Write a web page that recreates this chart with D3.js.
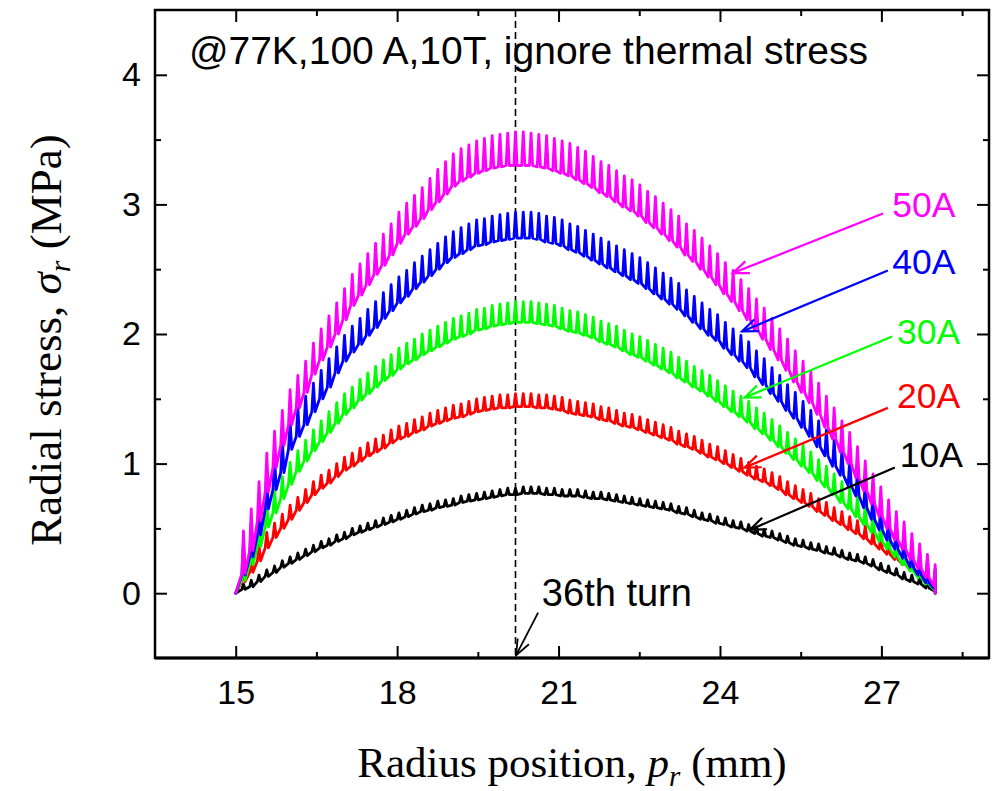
<!DOCTYPE html>
<html>
<head>
<meta charset="utf-8">
<script src="https://cdn.jsdelivr.net/npm/d3@7"></script>
<style>
  html, body { margin: 0; padding: 0; background: #fff; }
  svg { display: block; }
</style>
</head>
<body>
<div id="chart"></div>
<script>
// Radial stress per turn of a 90-turn pancake winding, 15 mm to 28 mm
const innerRadius = 15;
const outerRadius = 28;
const turnCount = 90;
const edgeStress = 0;

const seriesNames = ["10A", "20A", "30A", "40A", "50A"];

// stress at the tip of each turn's spike (MPa), turn 1..90
const peak10A = [
  0.07,0.10,0.14,0.18,0.21,0.25,0.28,0.31,0.34,0.37,
  0.40,0.42,0.45,0.47,0.50,0.52,0.54,0.56,0.58,0.60,
  0.62,0.64,0.66,0.68,0.69,0.71,0.72,0.73,0.75,0.76,
  0.77,0.78,0.79,0.80,0.81,0.81,0.82,0.82,0.82,0.81,
  0.81,0.80,0.80,0.80,0.79,0.78,0.78,0.77,0.76,0.75,
  0.74,0.73,0.72,0.71,0.70,0.69,0.67,0.66,0.64,0.62,
  0.61,0.59,0.58,0.56,0.55,0.53,0.51,0.49,0.48,0.46,
  0.44,0.42,0.41,0.39,0.38,0.36,0.35,0.33,0.31,0.30,
  0.28,0.26,0.23,0.21,0.19,0.16,0.14,0.12,0.09,0.07];
const peak20A = [
  0.21,0.28,0.37,0.47,0.54,0.61,0.68,0.74,0.80,0.86,
  0.91,0.95,1.00,1.05,1.08,1.12,1.16,1.19,1.22,1.26,
  1.29,1.31,1.34,1.36,1.39,1.41,1.43,1.45,1.46,1.48,
  1.50,1.51,1.52,1.53,1.53,1.54,1.54,1.54,1.53,1.53,
  1.52,1.51,1.49,1.48,1.47,1.46,1.44,1.43,1.41,1.39,
  1.38,1.36,1.34,1.32,1.30,1.28,1.25,1.23,1.21,1.18,
  1.15,1.13,1.10,1.07,1.04,1.01,0.98,0.96,0.93,0.90,
  0.86,0.83,0.80,0.77,0.73,0.70,0.66,0.63,0.59,0.56,
  0.52,0.48,0.44,0.40,0.36,0.32,0.28,0.23,0.18,0.13];
const peak30A = [
  0.31,0.42,0.56,0.70,0.80,0.90,1.01,1.10,1.18,1.26,
  1.33,1.40,1.47,1.54,1.59,1.65,1.70,1.75,1.80,1.84,
  1.89,1.93,1.96,2.00,2.03,2.06,2.09,2.12,2.14,2.16,
  2.19,2.20,2.22,2.23,2.24,2.25,2.25,2.25,2.24,2.23,
  2.22,2.20,2.18,2.17,2.15,2.13,2.10,2.08,2.06,2.03,
  2.00,1.98,1.95,1.92,1.89,1.86,1.82,1.79,1.75,1.72,
  1.68,1.64,1.60,1.56,1.52,1.48,1.43,1.39,1.34,1.29,
  1.24,1.19,1.14,1.09,1.03,0.98,0.92,0.86,0.81,0.75,
  0.69,0.63,0.56,0.50,0.44,0.38,0.32,0.27,0.21,0.16];
const peak40A = [
  0.40,0.54,0.71,0.91,1.06,1.19,1.33,1.43,1.52,1.62,
  1.72,1.81,1.90,1.99,2.06,2.12,2.19,2.25,2.32,2.38,
  2.44,2.49,2.55,2.60,2.65,2.70,2.75,2.79,2.82,2.85,
  2.88,2.89,2.91,2.92,2.93,2.94,2.94,2.94,2.93,2.91,
  2.90,2.88,2.85,2.83,2.80,2.77,2.74,2.71,2.68,2.65,
  2.62,2.59,2.55,2.51,2.47,2.43,2.39,2.34,2.29,2.24,
  2.19,2.15,2.09,2.04,1.99,1.94,1.87,1.81,1.74,1.68,
  1.61,1.55,1.48,1.41,1.33,1.26,1.18,1.11,1.03,0.95,
  0.86,0.77,0.69,0.61,0.54,0.46,0.39,0.32,0.26,0.19];
const peak50A = [
  0.48,0.65,0.86,1.08,1.25,1.41,1.57,1.68,1.79,1.93,
  2.04,2.14,2.24,2.35,2.46,2.54,2.62,2.70,2.77,2.85,
  2.94,3.01,3.07,3.13,3.20,3.27,3.33,3.39,3.43,3.46,
  3.49,3.51,3.53,3.54,3.55,3.56,3.56,3.55,3.54,3.53,
  3.51,3.49,3.47,3.44,3.41,3.37,3.33,3.30,3.26,3.22,
  3.19,3.15,3.10,3.06,3.01,2.96,2.91,2.85,2.80,2.74,
  2.68,2.62,2.55,2.49,2.42,2.35,2.27,2.20,2.12,2.04,
  1.96,1.87,1.79,1.71,1.62,1.52,1.43,1.33,1.24,1.13,
  1.02,0.92,0.82,0.72,0.63,0.55,0.46,0.38,0.30,0.22];

// stress at the base of each turn, just before its spike (MPa)
const base10A = [
  0.03,0.05,0.09,0.13,0.16,0.20,0.23,0.26,0.29,0.32,
  0.35,0.37,0.40,0.42,0.45,0.47,0.49,0.51,0.53,0.55,
  0.57,0.59,0.61,0.63,0.64,0.66,0.67,0.68,0.70,0.71,
  0.72,0.73,0.74,0.75,0.76,0.76,0.77,0.77,0.77,0.76,
  0.76,0.75,0.75,0.75,0.74,0.73,0.73,0.72,0.71,0.70,
  0.69,0.68,0.67,0.66,0.65,0.64,0.62,0.61,0.59,0.57,
  0.56,0.54,0.53,0.51,0.50,0.48,0.46,0.44,0.43,0.41,
  0.39,0.37,0.36,0.34,0.33,0.31,0.30,0.28,0.26,0.25,
  0.23,0.21,0.18,0.16,0.14,0.11,0.09,0.07,0.04,0.02];
const base20A = [
  0.09,0.16,0.25,0.35,0.43,0.50,0.57,0.64,0.70,0.76,
  0.81,0.85,0.90,0.95,0.98,1.02,1.06,1.09,1.12,1.16,
  1.19,1.21,1.24,1.26,1.29,1.31,1.33,1.35,1.36,1.38,
  1.40,1.41,1.42,1.43,1.43,1.44,1.44,1.44,1.43,1.43,
  1.42,1.41,1.39,1.38,1.37,1.36,1.34,1.33,1.31,1.29,
  1.28,1.26,1.24,1.22,1.20,1.18,1.15,1.13,1.11,1.08,
  1.05,1.03,1.00,0.97,0.94,0.91,0.88,0.86,0.83,0.80,
  0.76,0.73,0.70,0.67,0.63,0.60,0.56,0.53,0.49,0.46,
  0.42,0.38,0.34,0.30,0.26,0.22,0.18,0.14,0.09,0.05];
const base30A = [
  0.10,0.22,0.36,0.51,0.62,0.73,0.84,0.94,1.02,1.10,
  1.17,1.24,1.31,1.38,1.43,1.49,1.54,1.59,1.64,1.68,
  1.73,1.77,1.80,1.84,1.87,1.90,1.93,1.96,1.98,2.00,
  2.03,2.04,2.06,2.07,2.08,2.09,2.09,2.09,2.08,2.07,
  2.06,2.04,2.02,2.01,1.99,1.97,1.94,1.92,1.90,1.87,
  1.84,1.82,1.79,1.76,1.73,1.70,1.66,1.63,1.59,1.56,
  1.52,1.48,1.44,1.40,1.36,1.32,1.27,1.23,1.18,1.13,
  1.08,1.03,0.98,0.93,0.87,0.82,0.76,0.70,0.65,0.59,
  0.53,0.47,0.40,0.34,0.28,0.22,0.17,0.12,0.07,0.03];
const base40A = [
  0.14,0.28,0.45,0.65,0.80,0.93,1.11,1.21,1.30,1.40,
  1.50,1.59,1.70,1.79,1.86,1.92,1.99,2.05,2.12,2.18,
  2.24,2.29,2.35,2.40,2.45,2.50,2.55,2.59,2.62,2.65,
  2.68,2.69,2.71,2.72,2.73,2.74,2.74,2.74,2.73,2.71,
  2.70,2.68,2.65,2.63,2.60,2.57,2.54,2.51,2.48,2.45,
  2.42,2.39,2.35,2.31,2.27,2.23,2.19,2.14,2.09,2.04,
  1.99,1.95,1.89,1.84,1.79,1.74,1.67,1.61,1.54,1.48,
  1.41,1.35,1.28,1.21,1.13,1.06,0.98,0.91,0.83,0.75,
  0.66,0.57,0.49,0.41,0.34,0.27,0.20,0.14,0.08,0.04];
const base50A = [
  0.15,0.33,0.56,0.78,0.97,1.14,1.30,1.43,1.55,1.69,
  1.80,1.90,2.00,2.11,2.22,2.30,2.38,2.46,2.53,2.61,
  2.70,2.77,2.83,2.89,2.96,3.02,3.08,3.14,3.18,3.21,
  3.24,3.26,3.28,3.29,3.30,3.30,3.30,3.30,3.29,3.28,
  3.26,3.24,3.22,3.19,3.16,3.13,3.09,3.06,3.02,2.98,
  2.95,2.91,2.86,2.82,2.77,2.72,2.67,2.61,2.56,2.50,
  2.44,2.38,2.31,2.25,2.18,2.11,2.03,1.96,1.88,1.80,
  1.72,1.63,1.55,1.47,1.38,1.28,1.19,1.09,1.00,0.89,
  0.79,0.69,0.59,0.50,0.41,0.34,0.26,0.19,0.12,0.06];

const peaks = [peak10A, peak20A, peak30A, peak40A, peak50A];
const bases = [base10A, base20A, base30A, base40A, base50A];

// labels and arrows in data units: text pos, arrow start, arrow tip
const labelPos   = [[27.34, 0.97], [27.29, 1.43], [27.29, 1.92], [27.2, 2.46], [27.2, 2.90]];
const arrowStart = [[27.25, 0.97], [27.12, 1.43], [27.2, 1.98], [27.12, 2.49], [27.03, 2.93]];
const arrowTip   = [[24.56, 0.49], [24.46, 0.97], [24.46, 1.51], [24.41, 2.02], [24.24, 2.47]];

const markTurn = 20.2;
const markLabel = "36th turn";
const markLabelPos = [20.69, -0.1];
const markArrow = [[20.62, -0.15], [20.21, -0.48]];
const noteText = "@77K,100 A,10T, ignore thermal stress";
const notePos = [14.13, 4.08];

const xTicks = [15, 18, 21, 24, 27];
const xMinor = [16.5, 19.5, 22.5, 25.5, 28.5];
const yTicks = [0, 1, 2, 3, 4];
const yMinor = [0.5, 1.5, 2.5, 3.5];

// ---- styles ----
const colors = {"10A": "#000000", "20A": "#ff0000", "30A": "#00ff00", "40A": "#0000ff", "50A": "#ff00ff"};
const SANS = "'Liberation Sans', Arial, Helvetica, sans-serif";
const SERIF = "'Liberation Serif', 'Times New Roman', Times, serif";

const W = 998, H = 791;
const margin = { top: 10, left: 155, right: 9, bottom: 133 };

const svg = d3.select("#chart").append("svg")
    .attr("width", W)
    .attr("height", H);

const x = d3.scaleLinear().domain([13.5, 29]).range([margin.left, W - margin.right]);
const y = d3.scaleLinear().domain([-0.5, 4.5]).range([H - margin.bottom, margin.top]);

const plotW = W - margin.left - margin.right;
const plotH = H - margin.top - margin.bottom;

svg.append("defs").append("clipPath").attr("id", "plot-clip")
    .append("rect")
    .attr("x", margin.left).attr("y", margin.top)
    .attr("width", plotW).attr("height", plotH);

// dashed marker at the 36th turn
svg.append("line")
    .attr("x1", x(markTurn)).attr("x2", x(markTurn))
    .attr("y1", y(4.5)).attr("y2", y(-0.5))
    .attr("stroke", "#000")
    .attr("stroke-width", 1.6)
    .attr("stroke-dasharray", "7,4");

// ---- sawtooth curves ----
const pitch = (outerRadius - innerRadius) / turnCount;
const spike = 0.03; // half width of a spike, mm

function turnPoints(pk, bs) {
    const pts = [[innerRadius, edgeStress]];
    for (let k = 0; k < turnCount; k++) {
        const r = innerRadius + (k + 1) * pitch;
        pts.push([r - spike, bs[k]]);
        pts.push([r, pk[k]]);
        if (k < turnCount - 1) pts.push([r + spike, bs[k]]);
        else pts.push([r, edgeStress]);
    }
    return pts;
}

const line = d3.line()
    .x(d => x(d[0]))
    .y(d => y(d[1]));

const curves = svg.append("g").attr("clip-path", "url(#plot-clip)");
seriesNames.forEach((name, i) => {
    curves.append("path")
        .attr("d", line(turnPoints(peaks[i], bases[i])))
        .attr("fill", "none")
        .attr("stroke", colors[name])
        .attr("stroke-width", 2.8)
        .attr("stroke-linejoin", "round")
        .attr("stroke-linecap", "round");
});

// ---- arrows ----
function arrow(g, from, to, color, width) {
    const x1 = x(from[0]), y1 = y(from[1]);
    const x2 = x(to[0]), y2 = y(to[1]);
    g.append("line")
        .attr("x1", x1).attr("y1", y1).attr("x2", x2).attr("y2", y2)
        .attr("stroke", color).attr("stroke-width", width);
    const ang = Math.atan2(y2 - y1, x2 - x1);
    const len = 17, spread = 0.38;
    const p = d3.path();
    p.moveTo(x2 - len * Math.cos(ang - spread), y2 - len * Math.sin(ang - spread));
    p.lineTo(x2, y2);
    p.lineTo(x2 - len * Math.cos(ang + spread), y2 - len * Math.sin(ang + spread));
    g.append("path")
        .attr("d", p.toString())
        .attr("fill", "none")
        .attr("stroke", color).attr("stroke-width", width)
        .attr("stroke-linejoin", "miter");
}

const ann = svg.append("g");
seriesNames.forEach((name, i) => {
    arrow(ann, arrowStart[i], arrowTip[i], colors[name], 2.2);
    ann.append("text")
        .attr("x", x(labelPos[i][0]))
        .attr("y", y(labelPos[i][1]))
        .attr("fill", colors[name])
        .attr("font-family", SANS)
        .attr("font-size", "35.5px")
        .text(name);
});

arrow(ann, markArrow[0], markArrow[1], "#000", 1.8);
ann.append("text")
    .attr("x", x(markLabelPos[0]))
    .attr("y", y(markLabelPos[1]))
    .attr("font-family", SANS)
    .attr("font-size", "38px")
    .attr("fill", "#000")
    .text(markLabel);

ann.append("text")
    .attr("x", x(notePos[0]))
    .attr("y", y(notePos[1]))
    .attr("font-family", SANS)
    .attr("font-size", "39px")
    .attr("fill", "#000")
    .text(noteText);

// ---- axes (ticks inward on all four sides) ----
const MAJ = 12, MIN = 6;
function styleAxis(g) {
    g.select(".domain").remove();
    g.selectAll(".tick line").attr("stroke", "#000").attr("stroke-width", 2);
    g.selectAll("text")
        .attr("font-family", SANS)
        .attr("font-size", "34px")
        .attr("fill", "#000");
}

const axBottom = svg.append("g").attr("transform", `translate(0,${y(-0.5)})`);
axBottom.call(d3.axisBottom(x).tickValues(xTicks).tickSize(-MAJ).tickPadding(22).tickFormat(d3.format("d")));
styleAxis(axBottom);
svg.append("g").attr("transform", `translate(0,${y(-0.5)})`)
    .call(d3.axisBottom(x).tickValues(xMinor).tickSize(-MIN).tickFormat(""))
    .call(styleAxis);

svg.append("g").attr("transform", `translate(0,${y(4.5)})`)
    .call(d3.axisTop(x).tickValues(xTicks).tickSize(-MAJ).tickFormat(""))
    .call(styleAxis);
svg.append("g").attr("transform", `translate(0,${y(4.5)})`)
    .call(d3.axisTop(x).tickValues(xMinor).tickSize(-MIN).tickFormat(""))
    .call(styleAxis);

const axLeft = svg.append("g").attr("transform", `translate(${x(13.5)},0)`);
axLeft.call(d3.axisLeft(y).tickValues(yTicks).tickSize(-MAJ).tickPadding(14).tickFormat(d3.format("d")));
styleAxis(axLeft);
svg.append("g").attr("transform", `translate(${x(13.5)},0)`)
    .call(d3.axisLeft(y).tickValues(yMinor).tickSize(-MIN).tickFormat(""))
    .call(styleAxis);

svg.append("g").attr("transform", `translate(${x(29)},0)`)
    .call(d3.axisRight(y).tickValues(yTicks).tickSize(-MAJ).tickFormat(""))
    .call(styleAxis);
svg.append("g").attr("transform", `translate(${x(29)},0)`)
    .call(d3.axisRight(y).tickValues(yMinor).tickSize(-MIN).tickFormat(""))
    .call(styleAxis);

// frame
svg.append("rect")
    .attr("x", x(13.5)).attr("y", y(4.5))
    .attr("width", x(29) - x(13.5)).attr("height", y(-0.5) - y(4.5))
    .attr("fill", "none")
    .attr("stroke", "#000")
    .attr("stroke-width", 2.5);
// bottom axis line drawn a little heavier
svg.append("line")
    .attr("x1", x(13.5)).attr("x2", x(29))
    .attr("y1", y(-0.5)).attr("y2", y(-0.5))
    .attr("stroke", "#000")
    .attr("stroke-width", 3);

// ---- axis titles ----
const xTitle = svg.append("text")
    .attr("x", 572)
    .attr("y", 777)
    .attr("text-anchor", "middle")
    .attr("font-family", SERIF)
    .attr("font-size", "43px")
    .attr("fill", "#000");
xTitle.append("tspan").text("Radius position, ");
xTitle.append("tspan").attr("font-style", "italic").text("p");
xTitle.append("tspan").attr("font-style", "italic").attr("font-size", "29px").attr("dy", "9").text("r");
xTitle.append("tspan").attr("dy", "-9").text(" (mm)");

const yTitle = svg.append("text")
    .attr("transform", `translate(61,${(y(-0.5) + y(4.5)) / 2 + 6}) rotate(-90)`)
    .attr("text-anchor", "middle")
    .attr("font-family", SERIF)
    .attr("font-size", "45px")
    .attr("fill", "#000");
yTitle.append("tspan").text("Radial stress, ");
yTitle.append("tspan").attr("font-style", "italic").text("σ");
yTitle.append("tspan").attr("font-style", "italic").attr("font-size", "30px").attr("dy", "9").text("r");
yTitle.append("tspan").attr("dy", "-9").text(" (MPa)");
</script>
</body>
</html>
